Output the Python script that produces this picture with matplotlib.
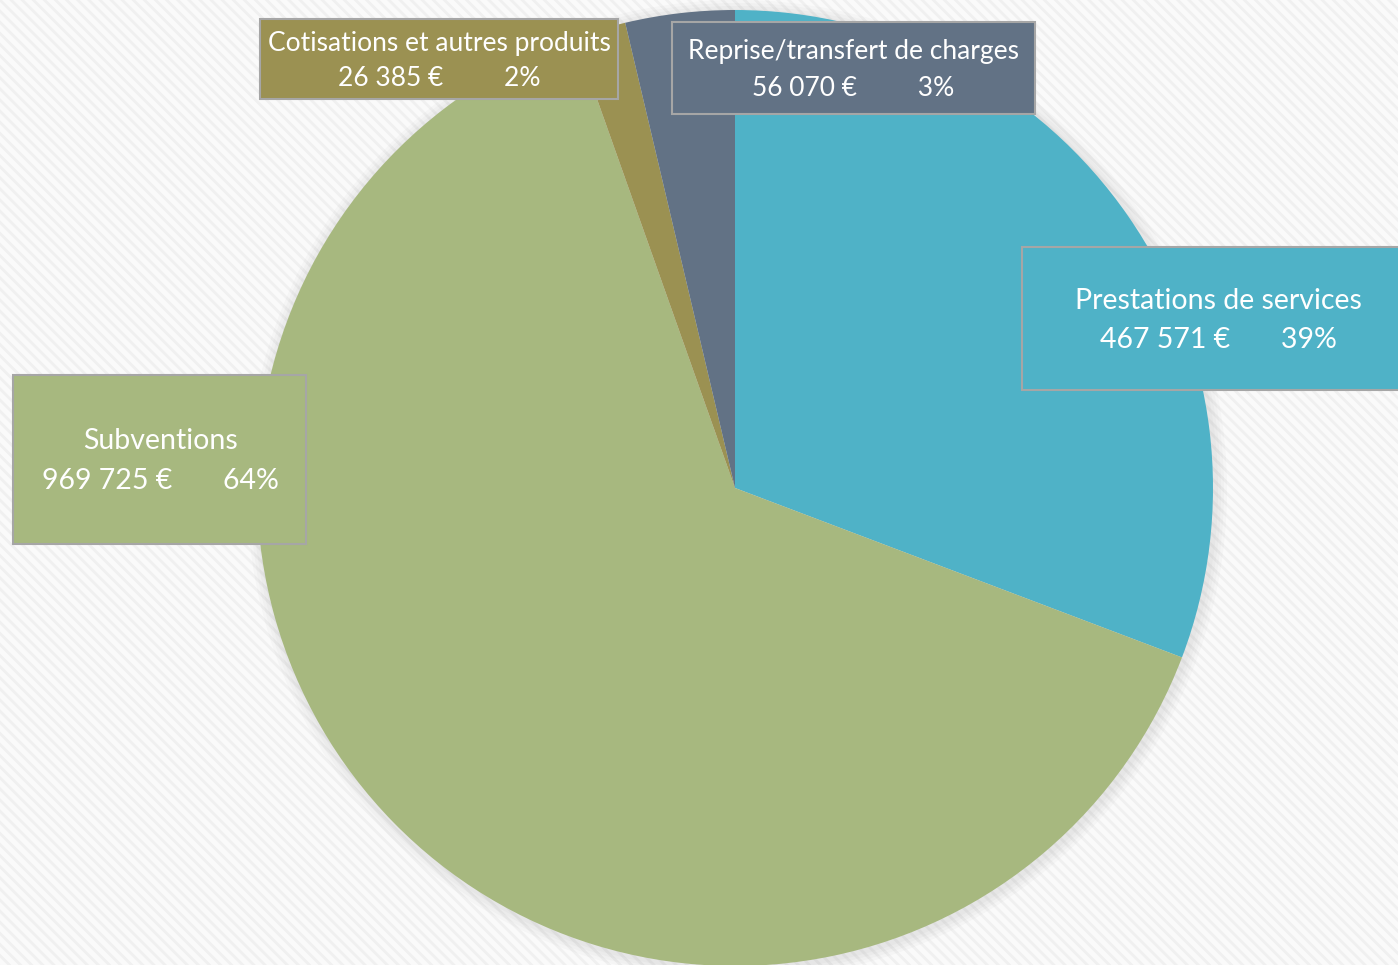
import matplotlib.pyplot as plt
from matplotlib.patches import Rectangle, Circle

plt.rcParams['font.family'] = ['Lato', 'DejaVu Sans']
plt.rcParams['hatch.linewidth'] = 2.0

labels = ['Prestations de services', 'Subventions', 'Cotisations et autres produits', 'Reprise/transfert de charges']
values = [467571, 969725, 26385, 56070]
amounts = ['467 571 €', '969 725 €', '26 385 €', '56 070 €']
pcts = ['39%', '64%', '2%', '3%']
colors = ['#4fb2c7', '#a7b87f', '#9b9152', '#627285']

fig = plt.figure(figsize=(13.98, 9.65), dpi=100)
ax = fig.add_axes([0, 0, 1, 1])

# striped background
bg = Rectangle((0, 0), 1398, 965, facecolor='#fafafa', edgecolor='#f0f0f0', hatch='\\\\\\', lw=0, zorder=0)
ax.add_patch(bg)

cx, cy, r = 735, 965 - 488, 478

# soft shadow
for i in range(4):
    ax.add_patch(Circle((cx + 2, cy - 2), r + 3 + 3 * i, color='#888888', alpha=0.045, lw=0, zorder=1))

ax.pie(values, colors=colors, startangle=90, counterclock=False, center=(cx, cy), radius=r,
       wedgeprops=dict(linewidth=0, zorder=2), frame=True)
ax.set_xlim(0, 1398)
ax.set_ylim(0, 965)
ax.axis('off')

# label boxes: x0, y0 (top in pixels), width, height, text center x, line y's, font size, gap
boxes = [
    (1022, 247, 400, 143, 1218, 301, 340, 20.5, 7),
    (13, 375, 293, 169, 160, 441, 481, 20.5, 7),
    (260, 19, 358, 80, 439, 43, 78, 19, 9),
    (672, 22, 363, 92, 853, 52, 88, 19, 9),
]

for i, (x0, y0, w, h, tx, ty1, ty2, fs, gap) in enumerate(boxes):
    ax.add_patch(Rectangle((x0, 965 - y0 - h), w, h, facecolor=colors[i], edgecolor='#a6a6a6', lw=1.5, zorder=5))
    ax.text(tx, 965 - ty1, labels[i], ha='center', va='center', color='white', fontsize=fs, zorder=6)
    ax.text(tx, 965 - ty2, amounts[i] + ' ' * gap + pcts[i], ha='center', va='center', color='white', fontsize=fs, zorder=6)

fig.savefig('out.png', dpi=100)
